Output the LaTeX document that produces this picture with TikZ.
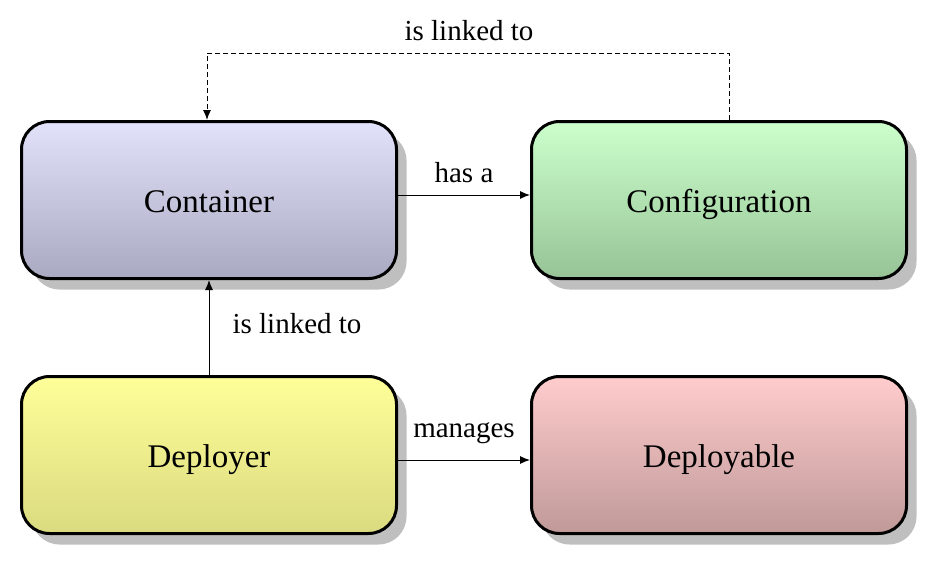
\documentclass[tikz,border=0pt]{standalone}
\usepackage{fontspec}
\setmainfont{Liberation Serif}
\usetikzlibrary{shadows,arrows.meta}
\definecolor{ctop}{HTML}{E2E2FA}
\definecolor{cbot}{HTML}{A9A9C1}
\definecolor{gtop}{HTML}{CCFFCC}
\definecolor{gbot}{HTML}{97C397}
\definecolor{ytop}{HTML}{FFFF99}
\definecolor{ybot}{HTML}{DADA80}
\definecolor{rtop}{HTML}{FFCCCC}
\definecolor{rbot}{HTML}{C09999}
\begin{document}
\begin{tikzpicture}[x=1pt,y=-1pt,
  box/.style={draw=black,line width=3pt,rounded corners=28pt,
    minimum width=375pt,minimum height=157pt,inner sep=0pt,
    text height=24pt,text depth=0pt,
    font=\fontsize{33}{38}\selectfont,
    drop shadow={shadow xshift=10pt,shadow yshift=-11pt,fill=black!25,opacity=1}},
  lbl/.style={font=\fontsize{29}{34}\selectfont,inner sep=0pt,anchor=base},
  arr/.style={line width=1pt,-{Latex[length=10pt,width=8pt]}},
  dsh/.style={arr,dash pattern=on 5pt off 3pt}]
\useasboundingbox (0,0) rectangle (932,565);
\node[box,top color=ctop,bottom color=cbot] (cont) at (209,200) {Container};
\node[box,top color=gtop,bottom color=gbot] (conf) at (719,200) {Configuration};
\node[box,top color=ytop,bottom color=ybot] (depr) at (209,455) {Deployer};
\node[box,top color=rtop,bottom color=rbot] (depl) at (719,455) {Deployable};
\coordinate (top) at (0,53);
\coordinate (s1) at ([xshift=10pt]conf.north);
\coordinate (e1) at ([xshift=-2pt]cont.north);
\draw[dsh] (s1) -- (s1 |- top) -- (e1 |- top) -- (e1);
\draw[arr] ([yshift=5pt]cont.east) -- ([yshift=5pt]conf.west);
\draw[arr] ([yshift=-5pt]depr.east) -- ([yshift=-5pt]depl.west);
\draw[arr] (depr.north) -- (cont.south);
\node[lbl] (l1) at (469,40) {is linked to};
\node[lbl] (l2) at (464,182) {has a};
\node[lbl] (l3) at (297,333) {is linked to};
\node[lbl] (l4) at (464,437) {manages};
\end{tikzpicture}
\end{document}
